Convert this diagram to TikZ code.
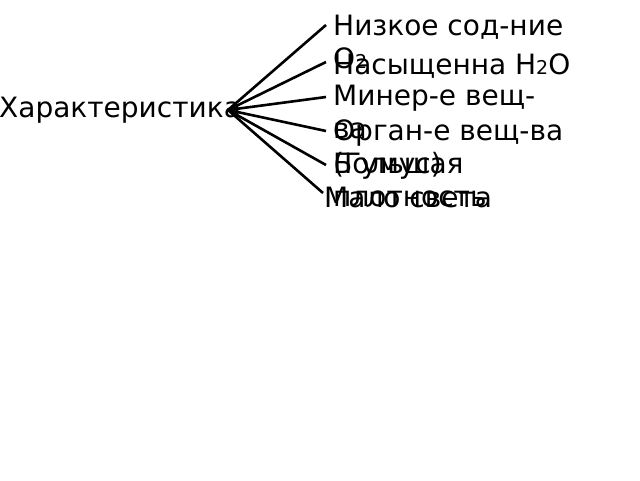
\documentclass[tikz,border=0pt]{standalone}
\usepackage{fontspec}
\setmainfont{DejaVu Sans}
\newcommand{\smallsub}[1]{{\fontsize{19}{19}\selectfont #1}}
\begin{document}
\begin{tikzpicture}[x=1pt,y=-1pt,
  lbl/.style={anchor=base west,inner sep=0pt,align=left,font=\fontsize{28}{33}\selectfont},
  conn/.style={line width=2.6pt,black}]
\useasboundingbox (0,0) rectangle (640,480);
\node[lbl] (root) at (-1,117) {Характеристика};
\coordinate (hub) at (228,110);
\node[lbl] (n1) at (333,68) {Низкое сод-ние\\O\smallsub{2}};
\node[lbl] (n2) at (333,74) {Насыщенна H\smallsub{2}O};
\node[lbl] (n3) at (333,138) {Минер-е вещ-\\ва};
\node[lbl] (n4) at (333,173) {Орган-е вещ-ва\\(Гумус)};
\node[lbl] (n5) at (333,206) {Большая\\плотность};
\node[lbl] (n6) at (324,207) {Мало света};
\coordinate (e1) at (326,25);
\coordinate (e2) at (326,62);
\coordinate (e3) at (326,97);
\coordinate (e4) at (326,131);
\coordinate (e5) at (326,165);
\coordinate (e6) at (323,193);
\foreach \e in {e1,e2,e3,e4,e5,e6} \draw[conn] (hub) -- (\e);
\end{tikzpicture}
\end{document}
